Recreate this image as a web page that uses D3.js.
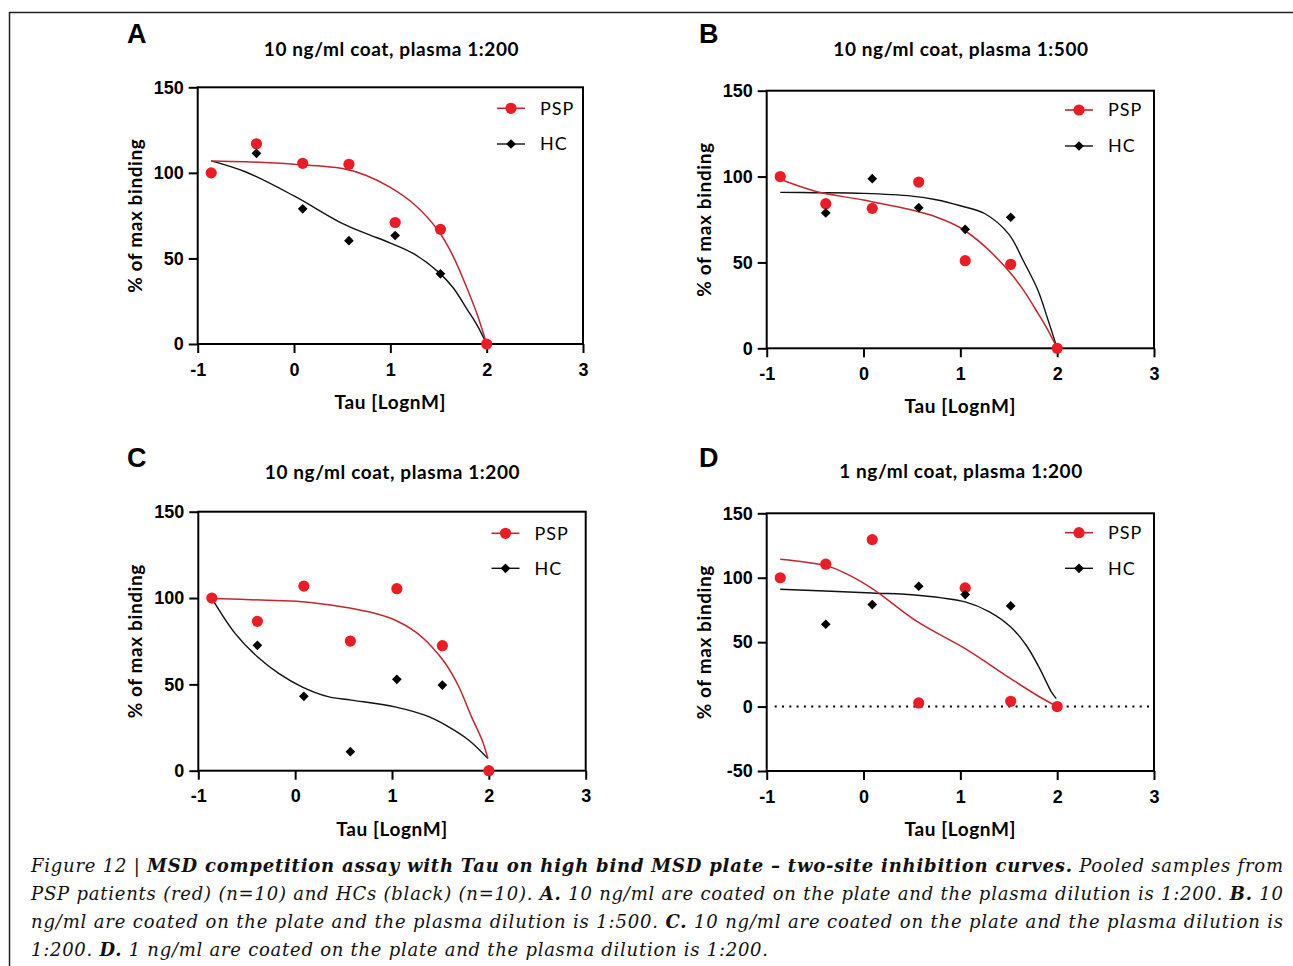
<!DOCTYPE html>
<html>
<head>
<meta charset="utf-8">
<script src="https://cdn.jsdelivr.net/npm/d3@7"></script>
<style>
  body { margin: 0; background: #fff; }
  svg { display: block; }
</style>
</head>
<body>
<svg id="fig" width="1293" height="966"></svg>
<script>
// Tau concentration (log nM), 3-fold serial dilution from 100 nM
const tauLog = [-0.86, -0.39, 0.09, 0.57, 1.05, 1.52, 2.0];

// % of max binding, pooled PSP (red) and HC (black) plasma
const pspA = [100, 117, 105.6, 105, 71, 67, 0];
const hcA  = [null, 111.4, 79, 60.4, 63.4, 41, null];
const pspB = [100, 84.2, 81.5, 96.8, 51, 48.9, 0];
const hcB  = [null, 78.8, 98.8, 81.9, 69.3, 76.3, null];
const pspC = [100, 86.5, 106.9, 75.1, 105.4, 72.4, 0];
const hcC  = [null, 72.6, 43.1, 11, 52.9, 49.6, null];
const pspD = [100, 110.5, 129.6, 2.8, 92.1, 4.1, 0];
const hcD  = [null, 63.9, 79.2, 93.4, 86.9, 78.1, null];

// Two-site inhibition fits, sampled as [log nM, % binding]
const fitPspA = [[-0.86,107],[-0.5,106.5],[0,105],[0.5,102.5],[0.75,98.5],[1,91.5],[1.25,81.5],[1.5,66],[1.65,51.5],[1.8,32],[1.9,17.5],[2,0]];
const fitHcA  = [[-0.86,107],[-0.5,100.5],[0,86.5],[0.5,70.5],[0.75,64.5],[1,59],[1.25,52.5],[1.5,42],[1.65,33],[1.8,20],[1.9,11],[2,0]];
const fitPspB = [[-0.86,98.4],[-0.5,91.5],[0,86.3],[0.5,80.5],[0.75,76.5],[1,70.2],[1.25,59.5],[1.5,45],[1.65,34],[1.8,20.5],[1.9,11],[2,0]];
const fitHcB  = [[-0.86,90.8],[-0.5,90.6],[0,90.2],[0.5,88.6],[0.75,86.5],[1,83],[1.25,78.5],[1.5,66.5],[1.65,51],[1.8,34],[1.9,17.5],[2,0]];
const fitPspC = [[-0.86,99.8],[-0.35,98.8],[0.07,97.9],[0.48,95],[0.76,92],[1.03,87.3],[1.24,80.5],[1.41,71.8],[1.55,62.2],[1.69,48.6],[1.82,31.3],[1.93,17.8],[1.99,7.1]];
const fitHcC  = [[-0.86,99.8],[-0.62,79.5],[-0.39,66],[-0.17,56.4],[0.07,48.6],[0.34,42.9],[0.58,40.9],[1.03,37],[1.38,31.3],[1.58,25.5],[1.79,17.8],[1.99,7.1]];
const fitPspD = [[-0.86,114.4],[-0.38,109.2],[-0.18,103.2],[0.09,91.6],[0.56,65.7],[1.05,45],[1.52,21.7],[1.79,8.8],[2,0]];
const fitHcD  = [[-0.86,91.1],[0.09,88.2],[0.56,86.4],[1.05,81.2],[1.3,73.5],[1.52,61.8],[1.68,47.6],[1.82,29.5],[1.94,11.4],[1.99,6.2]];

const xTicks = [-1, 0, 1, 2, 3];
const yTicksStd = [0, 50, 100, 150];
const yTicksD = [-50, 0, 50, 100, 150];

const panelTitles = [
  "10 ng/ml coat, plasma 1:200",
  "10 ng/ml coat, plasma 1:500",
  "10 ng/ml coat, plasma 1:200",
  "1 ng/ml coat, plasma 1:200"
];
const panelLetters = ["A", "B", "C", "D"];
const seriesNames = ["PSP", "HC"];

const RED = "#ec1c24";
const RED_FIT = "#c4262e";
const BLACK = "#111";

const svg = d3.select("#fig");
svg.append("rect").attr("width", 1293).attr("height", 966).attr("fill", "#fff");

// figure border (runs off the right and bottom edges)
svg.append("rect")
  .attr("x", 9.5).attr("y", 12.5).attr("width", 1320).attr("height", 1000)
  .attr("fill", "none").attr("stroke", "#222").attr("stroke-width", 1.5);

const panels = [
  { i: 0, left: 197.7, top: 87.3,  right: 583,   bottom: 344,   yDom: [0,150],   yTicks: yTicksStd, psp: pspA, hc: hcA, fPsp: fitPspA, fHc: fitHcA,
    letterX: 127, letterY: 43, titleX: 391.5, titleY: 56, yTitleX: 135, legX: 497, legY: [108.3, 144] },
  { i: 1, left: 766.7, top: 90.7,  right: 1154,  bottom: 348.3, yDom: [0,150],   yTicks: yTicksStd, psp: pspB, hc: hcB, fPsp: fitPspB, fHc: fitHcB,
    letterX: 699, letterY: 43, titleX: 961, titleY: 56, yTitleX: 704, legX: 1065, legY: [110, 146] },
  { i: 2, left: 198.3, top: 511.7, right: 585.7, bottom: 770.7, yDom: [0,150],   yTicks: yTicksStd, psp: pspC, hc: hcC, fPsp: fitPspC, fHc: fitHcC,
    letterX: 127, letterY: 467, titleX: 392.5, titleY: 479, yTitleX: 135, legX: 491.5, legY: [533.3, 568.3] },
  { i: 3, left: 766.7, top: 513.3, right: 1154,  bottom: 771,   yDom: [-50,150], yTicks: yTicksD,   psp: pspD, hc: hcD, fPsp: fitPspD, fHc: fitHcD,
    letterX: 699, letterY: 467, titleX: 961, titleY: 478, yTitleX: 704, legX: 1065, legY: [532.7, 568.3], zeroLine: true }
];

const diamond = d3.symbol().type(d3.symbolDiamond2 || d3.symbolSquare2).size(60);

panels.forEach(p => {
  const g = svg.append("g");
  const x = d3.scaleLinear().domain([-1, 3]).range([p.left, p.right]);
  const y = d3.scaleLinear().domain(p.yDom).range([p.bottom, p.top]);

  // panel letter and title
  g.append("text").attr("x", p.letterX).attr("y", p.letterY)
    .attr("font-family", "Liberation Sans, Arial, sans-serif").attr("font-weight", "bold")
    .attr("font-size", 27).attr("fill", "#000").text(panelLetters[p.i]);
  g.append("text").attr("x", p.titleX).attr("y", p.titleY).attr("text-anchor", "middle")
    .attr("font-family", "Lato, sans-serif").attr("font-weight", "bold")
    .attr("font-size", 19).attr("letter-spacing", 0.6).attr("fill", "#000").text(panelTitles[p.i]);

  // zero reference line
  if (p.zeroLine) {
    g.append("line").attr("x1", x(-1) + 8).attr("x2", x(3) - 2).attr("y1", y(0)).attr("y2", y(0))
      .attr("stroke", "#000").attr("stroke-width", 2).attr("stroke-dasharray", "2,5.3");
  }

  // axes
  const yAxis = d3.axisLeft(y).tickValues(p.yTicks).tickSize(9).tickPadding(5).tickFormat(d => String(d));
  const xAxis = d3.axisBottom(x).tickValues(xTicks).tickSize(9).tickPadding(10).tickFormat(d => String(d));
  const ya = g.append("g").attr("transform", `translate(${p.left},0)`).call(yAxis);
  const xa = g.append("g").attr("transform", `translate(0,${p.bottom})`).call(xAxis);
  [ya, xa].forEach(a => {
    a.select(".domain").remove();
    a.selectAll(".tick line").attr("stroke", "#000").attr("stroke-width", 2);
    a.selectAll(".tick text").attr("fill", "#000")
      .attr("font-family", "Liberation Sans, Arial, sans-serif")
      .attr("font-weight", "bold").attr("font-size", 18);
  });

  // plot frame
  g.append("rect").attr("x", p.left).attr("y", p.top)
    .attr("width", p.right - p.left).attr("height", p.bottom - p.top)
    .attr("fill", "none").attr("stroke", "#000").attr("stroke-width", 2);

  // axis titles
  g.append("text")
    .attr("transform", `translate(${p.yTitleX},${(p.top + p.bottom) / 2}) rotate(-90)`)
    .attr("text-anchor", "middle").attr("dy", "0.35em")
    .attr("font-family", "Lato, sans-serif").attr("font-weight", "bold")
    .attr("font-size", 19).attr("letter-spacing", 0.6).attr("fill", "#000").text("% of max binding");
  g.append("text").attr("x", (p.left + p.right) / 2).attr("y", p.bottom + 65)
    .attr("text-anchor", "middle")
    .attr("font-family", "Lato, sans-serif").attr("font-weight", "bold")
    .attr("font-size", 19).attr("letter-spacing", 0.6).attr("fill", "#000").text("Tau [LognM]");

  // fitted curves
  const line = d3.line().x(d => x(d[0])).y(d => y(d[1])).curve(d3.curveCatmullRom.alpha(0.5));
  g.append("path").attr("d", line(p.fHc)).attr("fill", "none").attr("stroke", BLACK).attr("stroke-width", 1.4);
  g.append("path").attr("d", line(p.fPsp)).attr("fill", "none").attr("stroke", RED_FIT).attr("stroke-width", 1.5);

  // data points
  const pspPts = tauLog.map((t, k) => [t, p.psp[k]]).filter(d => d[1] != null);
  const hcPts = tauLog.map((t, k) => [t, p.hc[k]]).filter(d => d[1] != null);
  g.selectAll("circle.psp").data(pspPts).join("circle").attr("class", "psp")
    .attr("cx", d => x(d[0])).attr("cy", d => y(d[1])).attr("r", 5.6).attr("fill", RED);
  g.selectAll("path.hc").data(hcPts).join("path").attr("class", "hc")
    .attr("transform", d => `translate(${x(d[0])},${y(d[1])})`)
    .attr("d", diamond).attr("fill", "#000");

  // legend
  const lx = p.legX, [ly1, ly2] = p.legY;
  const lg = g.append("g");
  lg.append("line").attr("x1", lx).attr("x2", lx + 28).attr("y1", ly1).attr("y2", ly1)
    .attr("stroke", RED_FIT).attr("stroke-width", 1.6);
  lg.append("circle").attr("cx", lx + 14).attr("cy", ly1).attr("r", 5.6).attr("fill", RED);
  lg.append("line").attr("x1", lx).attr("x2", lx + 28).attr("y1", ly2).attr("y2", ly2)
    .attr("stroke", BLACK).attr("stroke-width", 1.4);
  lg.append("path").attr("transform", `translate(${lx + 14},${ly2})`).attr("d", diamond).attr("fill", "#000");
  lg.selectAll("text").data(seriesNames).join("text")
    .attr("x", lx + 43).attr("y", (d, k) => (k ? ly2 : ly1)).attr("dy", "0.36em")
    .attr("font-family", "Lato, sans-serif").attr("font-size", 18).attr("fill", "#000")
    .attr("letter-spacing", 1).text(d => d);
});

// caption
const captionLines = [
  { end: 1283, parts: [["Figure 12 | ", false], ["MSD competition assay with Tau on high bind MSD plate \u2013 two-site inhibition curves.", true], [" Pooled samples from", false]] },
  { end: 1283, parts: [["PSP patients (red) (n=10) and HCs (black) (n=10). ", false], ["A.", true], [" 10 ng/ml are coated on the plate and the plasma dilution is 1:200. ", false], ["B.", true], [" 10", false]] },
  { end: 1283, parts: [["ng/ml are coated on the plate and the plasma dilution is 1:500. ", false], ["C.", true], [" 10 ng/ml are coated on the plate and the plasma dilution is", false]] },
  { end: 768,  parts: [["1:200. ", false], ["D.", true], [" 1 ng/ml are coated on the plate and the plasma dilution is 1:200.", false]] }
];
const capX = 31;
captionLines.forEach((ln, k) => {
  const t = svg.append("text").attr("x", capX).attr("y", 872 + k * 28)
    .attr("font-family", "DejaVu Serif, serif").attr("font-style", "italic")
    .attr("font-size", 18).attr("fill", "#111")
    .attr("textLength", ln.end - capX).attr("lengthAdjust", "spacing")
    .attr("xml:space", "preserve");
  ln.parts.forEach(([s, b]) => {
    t.append("tspan").attr("font-weight", b ? "bold" : "normal").text(s);
  });
});
</script>
</body>
</html>
